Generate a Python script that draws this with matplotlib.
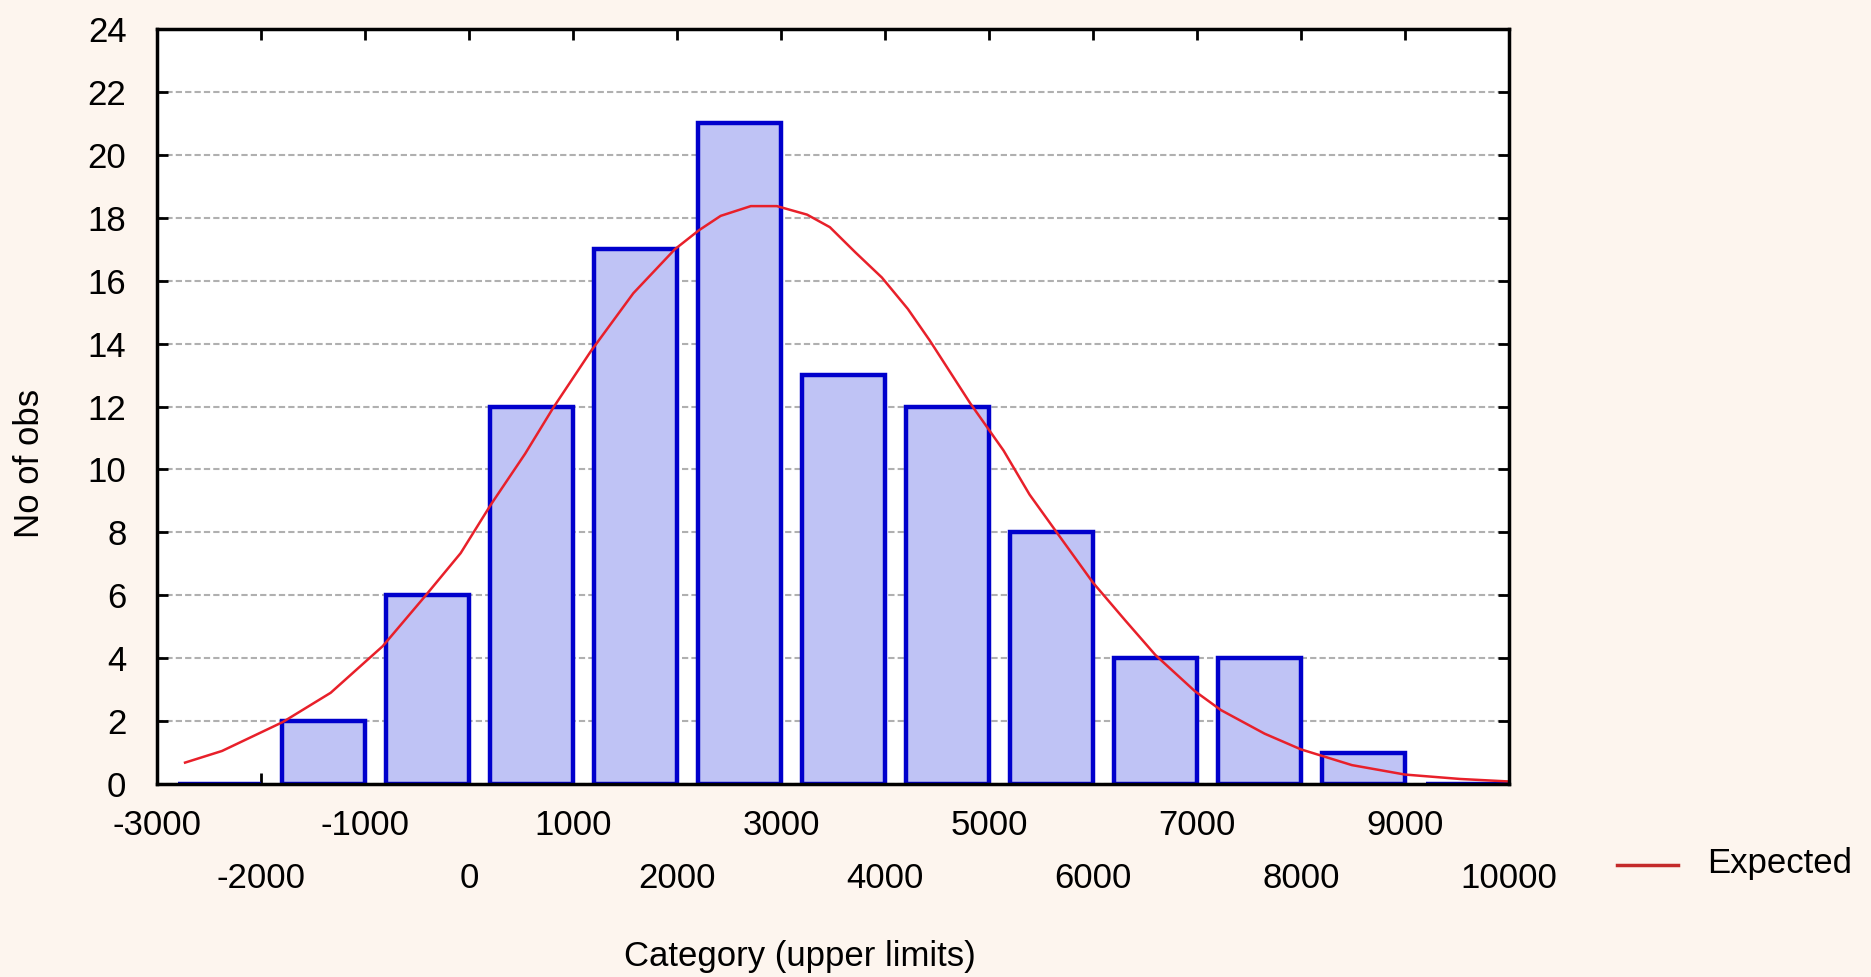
import matplotlib
matplotlib.use('Agg')
import matplotlib.pyplot as plt
from matplotlib.lines import Line2D

# font settings (Arial-like)
plt.rcParams['font.family'] = ['Liberation Sans', 'DejaVu Sans']
plt.rcParams['font.size'] = 25

# histogram data: category upper limits and counts
upper_limits = [-2000, -1000, 0, 1000, 2000, 3000, 4000, 5000, 6000, 7000, 8000, 9000, 10000]
counts = [0, 2, 6, 12, 17, 21, 13, 12, 8, 4, 4, 1, 0]

# expected (normal) curve
exp_x = [-2730, -2375, -1790, -1330, -830, -420, -80, 210, 540, 810, 1170, 1580,
         1980, 2210, 2420, 2710, 2960, 3250, 3470, 3715, 3970, 4220, 4430, 4820,
         5140, 5390, 5640, 6000, 6310, 6600, 6980, 7230, 7650, 8000, 8490, 9000,
         9530, 10000]
exp_y = [0.68, 1.05, 1.97, 2.9, 4.38, 5.98, 7.34, 8.88, 10.5, 11.96, 13.75, 15.6,
         17.0, 17.6, 18.06, 18.37, 18.37, 18.1, 17.7, 16.9, 16.1, 15.1, 14.1, 12.1,
         10.6, 9.2, 8.05, 6.4, 5.2, 4.1, 2.95, 2.35, 1.6, 1.1, 0.6, 0.3,
         0.16, 0.08]

# tick labels: two staggered rows
row1_ticks = [-3000, -1000, 1000, 3000, 5000, 7000, 9000]
row2_ticks = [-2000, 0, 2000, 4000, 6000, 8000, 10000]
y_ticks = list(range(0, 25, 2))

W, H = 1871, 977
bg = '#fdf5ee'
fig = plt.figure(figsize=(W / 100, H / 100), dpi=100, facecolor=bg)
ax = fig.add_axes([157 / W, 1 - 784 / H, (1509 - 157) / W, (784 - 29) / H])
ax.set_facecolor('white')

# bars: each bar ends at its upper limit
bar_w = 800
ax.bar([u - bar_w for u in upper_limits], counts, width=bar_w, align='edge',
       color='#bfc3f5', edgecolor='#0000cc', linewidth=3.2, zorder=2)

# expected curve
ax.plot(exp_x, exp_y, color='#e8202a', linewidth=1.8, zorder=3)

ax.set_xlim(-3000, 10000)
ax.set_ylim(0, 24)

# grid lines (horizontal, dashed gray)
ax.set_yticks(y_ticks)
ax.yaxis.grid(True, linestyle=(0, (3, 1.5)), color='#b0b0b0', linewidth=1.5, zorder=1)
ax.set_axisbelow(True)

ax.set_xticks(row1_ticks, [str(t) for t in row1_ticks])
ax.set_xticks(row2_ticks, [str(t) for t in row2_ticks], minor=True)
ax.tick_params(axis='x', which='both', direction='in', length=8, width=2,
               top=True, bottom=True)
ax.tick_params(axis='x', which='major', pad=18)
ax.tick_params(axis='x', which='minor', pad=56)
ax.tick_params(axis='y', direction='in', length=8, width=2, left=True, right=True, pad=22)

for sp in ax.spines.values():
    sp.set_linewidth(2.5)
    sp.set_zorder(4)

# axis labels
fig.text(800 / W, 4 / H, 'Category (upper limits)', ha='center', va='bottom')
fig.text(30 / W, 1 - 463 / H, 'No of obs', ha='center', va='center', rotation=90)

# legend (drawn by hand in figure coordinates)
fig.add_artist(Line2D([1617 / W, 1678 / W], [1 - 865 / H, 1 - 865 / H],
                      color='#c42a2a', linewidth=2.5))
fig.text(1707 / W, 1 - 863 / H, 'Expected', ha='left', va='center')

fig.savefig('out.png', dpi=100, facecolor=bg)
